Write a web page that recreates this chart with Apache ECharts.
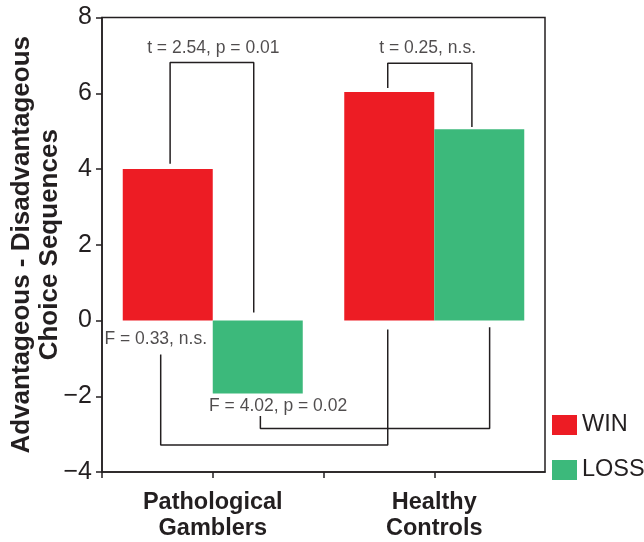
<!DOCTYPE html>
<html>
<head>
<meta charset="utf-8">
<script src="https://cdn.jsdelivr.net/npm/echarts@6/dist/echarts.min.js"></script>
<style>html,body{margin:0;padding:0;background:#fff}#c{width:644px;height:542px}</style>
</head>
<body>
<div id="c"></div>
<script>
// ---- data ----
const categories = ['Pathological\nGamblers', 'Healthy\nControls'];
const seriesNames = ['WIN', 'LOSS'];
const winValues = [4.0, 6.03];
const lossValues = [-1.93, 5.05];
const yTicks = { min: -4, max: 8, interval: 2 };
const yTitle = 'Advantageous - Disadvantageous\nChoice Sequences';
// annotation brackets, in data units (x: 0..4 position scale, y: value)
const bracketPG_t = [[0.615, 4.14], [0.615, 6.81], [1.37, 6.81], [1.37, 0.21]];
const bracketHC_t = [[2.58, 6.14], [2.58, 6.79], [3.34, 6.79], [3.34, 5.11]];
const bracketWIN_F = [[0.53, -0.90], [0.53, -3.29], [2.58, -3.29], [2.58, -0.24]];
const bracketLOSS_F = [[1.43, -2.52], [1.43, -2.85], [3.50, -2.85], [3.50, -0.18]];
const annotTexts = ['t = 2.54, p = 0.01', 't = 0.25, n.s.', 'F = 0.33, n.s.', 'F = 4.02, p = 0.02'];
const annotPos = [[1.005, 7.2], [2.94, 7.2], [0.485, -0.5], [1.59, -2.27]];

const FONT = '"Liberation Sans", Arial, Helvetica, sans-serif';
const INK = '#231F20';
const RED = '#ED1C24';
const GREEN = '#3CB97B';

const chart = echarts.init(document.getElementById('c'), null, { renderer: 'canvas' });

function bracket(data) {
  return {
    type: 'line', xAxisIndex: 1, yAxisIndex: 0, data: data,
    symbol: 'none', silent: true, animation: false,
    lineStyle: { color: INK, width: 1.5 }, z: 5
  };
}

chart.setOption({
  animation: false,
  backgroundColor: '#fff',
  grid: {
    left: 102, top: 17.5, right: 99, bottom: 70,
    outerBoundsMode: 'none', containLabel: false,
    show: true, borderColor: INK, borderWidth: 1.5, backgroundColor: 'transparent'
  },
  legend: {
    data: seriesNames, orient: 'vertical', left: 552, top: 413, padding: 0,
    itemWidth: 25, itemHeight: 20, itemGap: 21, icon: 'rect',
    textStyle: { fontFamily: FONT, fontSize: 23.5, color: INK }
  },
  xAxis: [
    {
      type: 'category', data: categories, gridIndex: 0,
      axisLine: { show: true, onZero: false, lineStyle: { color: INK, width: 1.5 } },
      axisTick: { show: false },
      axisLabel: {
        fontFamily: FONT, fontSize: 23.5, fontWeight: 'bold', color: INK,
        margin: 18, lineHeight: 26
      }
    },
    {
      type: 'value', min: 0, max: 4, interval: 1, gridIndex: 0, position: 'bottom',
      axisLine: { show: false, onZero: false },
      axisTick: { show: true, inside: false, length: 6, customValues: [0, 1, 2, 3], lineStyle: { color: INK, width: 1.5 } },
      axisLabel: { show: false },
      splitLine: { show: false }
    }
  ],
  yAxis: {
    type: 'value', min: yTicks.min, max: yTicks.max, interval: yTicks.interval,
    axisLine: { show: true, lineStyle: { color: INK, width: 1.5 } },
    axisTick: { show: true, length: 6, lineStyle: { color: INK, width: 1.5 } },
    splitLine: { show: false },
    axisLabel: {
      fontFamily: FONT, fontSize: 25, color: INK, margin: 10,
      formatter: v => v < 0 ? '\u2212' + Math.abs(v) : String(v)
    },
    name: yTitle, nameLocation: 'middle', nameGap: 38, nameRotate: 90, nameMoveOverlap: false,
    nameTextStyle: { fontFamily: FONT, fontSize: 26, fontWeight: 'bold', color: INK, lineHeight: 28, align: 'center' }
  },
  series: [
    {
      name: seriesNames[0], type: 'bar', xAxisIndex: 0, data: winValues,
      barWidth: 90, barGap: '0%', itemStyle: { color: RED }, z: 2
    },
    {
      name: seriesNames[1], type: 'bar', xAxisIndex: 0, data: lossValues,
      barWidth: 90, barGap: '0%', itemStyle: { color: GREEN }, z: 2
    },
    bracket(bracketPG_t),
    bracket(bracketHC_t),
    bracket(bracketWIN_F),
    bracket(bracketLOSS_F),
    {
      type: 'scatter', xAxisIndex: 1, yAxisIndex: 0, silent: true, z: 6,
      symbolSize: 1, itemStyle: { color: 'rgba(0,0,0,0)' },
      data: annotPos.map((p, i) => ({ value: p, name: annotTexts[i] })),
      label: {
        show: true, position: 'inside', formatter: p => p.name,
        fontFamily: FONT, fontSize: 17.5, color: INK, align: 'center', verticalAlign: 'middle'
      }
    }
  ]
});
</script>
</body>
</html>
